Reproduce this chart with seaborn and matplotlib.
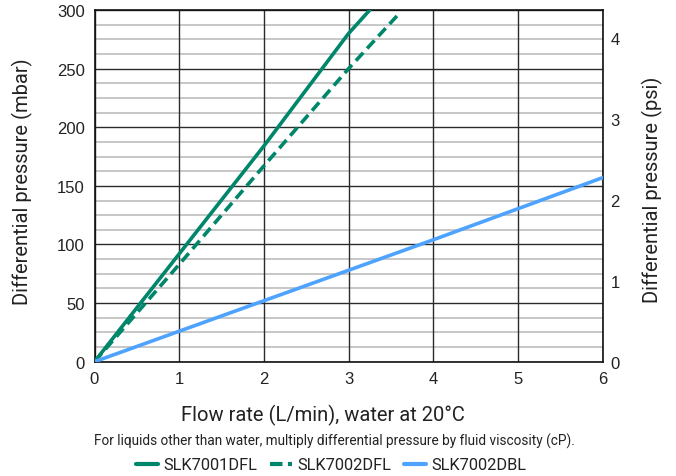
import matplotlib
matplotlib.use("Agg")
import matplotlib.pyplot as plt
from matplotlib.lines import Line2D
import seaborn as sns
import pandas as pd
import numpy as np

# Pressure drop curves (flow in L/min, differential pressure in mbar)
flow_7001dfl = [0, 1, 2, 3, 3.25]
dp_7001dfl = [0, 92, 184, 280, 300]

flow_7002dfl = [0, 1, 2, 3, 3.61]
dp_7002dfl = [0, 83, 167, 250, 298]

flow_7002dbl = [0, 2, 4, 6]
dp_7002dbl = [0, 52, 104, 157]

series_names = ["SLK7001DFL", "SLK7002DFL", "SLK7002DBL"]
x_ticks = [0, 1, 2, 3, 4, 5, 6]
y_ticks = [0, 50, 100, 150, 200, 250, 300]
psi_ticks = [0, 1, 2, 3, 4]
MBAR_PER_PSI = 68.9476

frames = []
for name, fx, fy in zip(series_names,
                        [flow_7001dfl, flow_7002dfl, flow_7002dbl],
                        [dp_7001dfl, dp_7002dfl, dp_7002dbl]):
    frames.append(pd.DataFrame({"flow": fx, "dp": fy, "model": name}))
df = pd.concat(frames, ignore_index=True)

sns.set_style("white")
plt.rcParams["font.family"] = ["Liberation Sans", "DejaVu Sans"]

GREEN = "#00866A"
BLUE = "#4DA3FF"
TEXT = "#222222"

W, H = 676, 477
fig = plt.figure(figsize=(W / 100, H / 100), dpi=100)
ax_l, ax_r, ax_t, ax_b = 94.5, 602.7, 11.0, 362.7
ax = fig.add_axes([ax_l / W, 1 - ax_b / H, (ax_r - ax_l) / W, (ax_b - ax_t) / H])

# grid: dark major lines, light minor lines every 12.5 mbar
for yv in np.arange(0, 300.1, 12.5):
    if yv % 50 == 0:
        continue
    ax.axhline(yv, color="#bdbdbd", lw=1.2, zorder=0)
for yv in y_ticks:
    ax.axhline(yv, color="#2b2b2b", lw=1.0, zorder=1)
for xv in x_ticks:
    ax.axvline(xv, color="#2b2b2b", lw=1.0, zorder=1)

palette = {"SLK7001DFL": GREEN, "SLK7002DFL": GREEN, "SLK7002DBL": BLUE}
dashes = {"SLK7001DFL": "", "SLK7002DFL": (3, 1.6), "SLK7002DBL": ""}
sns.lineplot(data=df, x="flow", y="dp", hue="model", style="model",
             palette=palette, dashes=dashes, hue_order=series_names,
             style_order=series_names, lw=2.6, ax=ax, legend=False,
             zorder=3, sort=False)

ax.set_xlim(0, 6)
ax.set_ylim(0, 300)
ax.set_xticks(x_ticks)
ax.set_yticks(y_ticks)
ax.tick_params(axis="y", length=0, labelsize=12, pad=7, colors=TEXT)
ax.tick_params(axis="x", length=0, labelsize=12, pad=6.5, colors=TEXT)
ax.set_xlabel("")
ax.set_ylabel("")
for s in ax.spines.values():
    s.set_color("#111111")
    s.set_linewidth(1.2)

ax2 = ax.twinx()
ax2.set_ylim(0, 300 / MBAR_PER_PSI)
ax2.set_yticks(psi_ticks)
ax2.tick_params(length=0, labelsize=12, pad=5.5, colors=TEXT)
for s in ax2.spines.values():
    s.set_visible(False)

lab_font = ["Roboto", "DejaVu Sans"]
fig.text(22 / W, 1 - 182 / H, "Differential pressure (mbar)", rotation=90,
         ha="center", va="center", fontsize=14.5, family=lab_font, color=TEXT)
fig.text(652 / W, 1 - 190 / H, "Differential pressure (psi)", rotation=90,
         ha="center", va="center", fontsize=14.5, family=lab_font, color=TEXT)
fig.text(323 / W, 1 - 415 / H, "Flow rate (L/min), water at 20°C",
         ha="center", va="center", fontsize=14.5, family=lab_font, color=TEXT)
fig.text(334 / W, 1 - 441 / H,
         "For liquids other than water, multiply differential pressure by fluid viscosity (cP).",
         ha="center", va="center", fontsize=9.8, family=lab_font, color=TEXT)

handles = [
    Line2D([], [], color=GREEN, lw=3),
    Line2D([], [], color=GREEN, lw=3, dashes=(3, 1.3)),
    Line2D([], [], color=BLUE, lw=3),
]
leg = fig.legend(handles, series_names, loc="center", ncol=3,
                 bbox_to_anchor=(331 / W, 1 - 466 / H), frameon=False,
                 handlelength=1.35, handletextpad=0.3, columnspacing=0.8,
                 prop={"family": lab_font, "size": 11.8})
for t in leg.get_texts():
    t.set_color(TEXT)

fig.savefig("out.png", dpi=100)
